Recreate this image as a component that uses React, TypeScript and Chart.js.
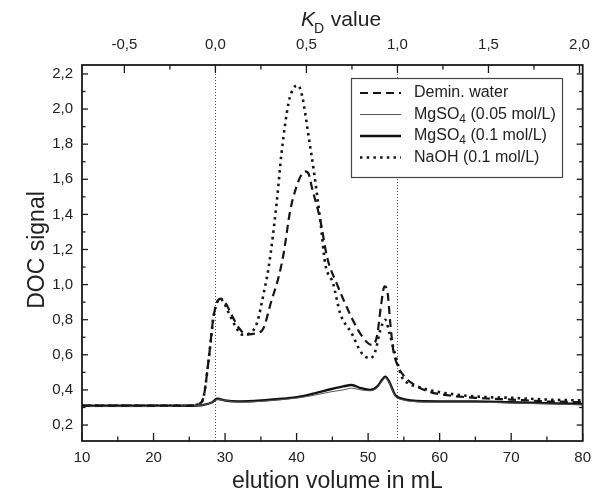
import React, { useEffect, useRef } from "react";
import { Chart, registerables } from "chart.js";

Chart.register(...registerables);

const FONT = '"Liberation Sans", Arial, Helvetica, sans-serif';
const INK = "#1a1a1a";

// ---- data (elution volume in mL / DOC signal) ----
const deminVol = [10, 14, 18, 22, 25, 26.3, 27.0, 27.7, 28.4, 28.9, 29.4, 30.0, 31.0, 32.0, 33.0, 34.0, 35.2, 36.5, 37.5, 38.2, 39.1, 40.0, 40.6, 41.2, 41.7, 42.1, 43.3, 44.3, 45.6, 47.2, 48.6, 50.0, 50.7, 51.3, 51.8, 52.3, 52.7, 53.1, 53.5, 54.2, 55.1, 56.5, 58.5, 61, 65, 70, 75, 80];
const deminSig = [0.31, 0.31, 0.31, 0.31, 0.31, 0.32, 0.36, 0.57, 0.82, 0.9, 0.92, 0.9, 0.82, 0.75, 0.715, 0.72, 0.74, 0.91, 1.045, 1.18, 1.42, 1.56, 1.62, 1.645, 1.63, 1.56, 1.37, 1.15, 1.007, 0.855, 0.741, 0.666, 0.656, 0.72, 0.88, 0.99, 0.96, 0.78, 0.63, 0.532, 0.475, 0.428, 0.39, 0.37, 0.355, 0.345, 0.335, 0.33];

const mg005Vol = [10, 15, 20, 25, 27, 28.2, 28.9, 30, 32, 35, 38, 40.3, 42.5, 44.9, 46.5, 47.7, 49, 50.3, 51.3, 52.0, 52.4, 52.9, 53.8, 54.7, 56, 60, 65, 70, 75, 80];
const mg005Sig = [0.305, 0.305, 0.305, 0.31, 0.315, 0.33, 0.345, 0.34, 0.33, 0.335, 0.345, 0.355, 0.37, 0.39, 0.4, 0.41, 0.4, 0.395, 0.415, 0.455, 0.47, 0.445, 0.365, 0.345, 0.335, 0.33, 0.33, 0.325, 0.32, 0.315];

const mg01Vol = [10, 15, 20, 25, 27, 28.2, 28.9, 30, 32, 35, 38, 40.3, 42.5, 44.9, 46.5, 47.7, 49, 50.3, 51.3, 52.0, 52.4, 52.9, 53.8, 54.7, 56, 60, 65, 70, 75, 80];
const mg01Sig = [0.31, 0.31, 0.31, 0.31, 0.315, 0.33, 0.35, 0.34, 0.335, 0.34, 0.35, 0.36, 0.38, 0.405, 0.42, 0.428, 0.41, 0.4, 0.42, 0.46, 0.475, 0.45, 0.37, 0.35, 0.34, 0.335, 0.335, 0.33, 0.325, 0.32];

const naohVol = [10, 14, 18, 22, 25, 26.3, 27.0, 27.7, 28.4, 28.9, 29.3, 29.8, 30.5, 31.5, 32.4, 33.3, 34.45, 35.4, 36.1, 37.2, 37.9, 38.9, 39.6, 40.2, 40.8, 41.7, 42.4, 43.3, 44.0, 45.1, 46.1, 47.7, 49.1, 50.3, 51.0, 51.7, 52.4, 53.0, 54.0, 54.7, 55.6, 57.0, 59, 62, 66, 70, 75, 80];
const naohSig = [0.31, 0.31, 0.31, 0.31, 0.31, 0.32, 0.36, 0.57, 0.82, 0.9, 0.92, 0.9, 0.84, 0.76, 0.715, 0.72, 0.78, 0.95, 1.1, 1.46, 1.75, 2.04, 2.12, 2.135, 2.07, 1.84, 1.65, 1.37, 1.12, 1.007, 0.836, 0.722, 0.61, 0.58, 0.62, 0.74, 0.8, 0.72, 0.57, 0.475, 0.437, 0.418, 0.395, 0.375, 0.36, 0.355, 0.345, 0.34];

const seriesLabels = ["Demin. water", "MgSO4 (0.05 mol/L)", "MgSO4 (0.1 mol/L)", "NaOH (0.1 mol/L)"];

// void volume (K_D = 0) and total volume (K_D = 1)
const V0 = 28.65;
const VT = 54.1;

const X_MIN = 10;
const X_MAX = 80;
const Y_MIN = 0.109;
const Y_MAX = 2.251;

const xMajorTicks = [10, 20, 30, 40, 50, 60, 70, 80];
const xMinorTicks = [15, 25, 35, 45, 55, 65, 75];
const yMajorTicks = [0.2, 0.4, 0.6, 0.8, 1.0, 1.2, 1.4, 1.6, 1.8, 2.0, 2.2];
const yMinorTicks = [0.3, 0.5, 0.7, 0.9, 1.1, 1.3, 1.5, 1.7, 1.9, 2.1];
const kdMajorTicks = [-0.5, 0, 0.5, 1.0, 1.5, 2.0];
const kdMinorTicks = [-0.25, 0.25, 0.75, 1.25, 1.75];

const comma = (v: number) => v.toFixed(1).replace(".", ",");
const pts = (xs: number[], ys: number[]) => xs.map((x, i) => ({ x, y: ys[i] }));

function drawSubText(ctx: CanvasRenderingContext2D, text: string, x: number, y: number, size: number) {
  const parts = text.split(/(?<=[A-Za-z])(\d+)/);
  let cx = x;
  parts.forEach((p, i) => {
    const sub = i % 2 === 1;
    ctx.font = `${sub ? Math.round(size * 0.72) : size}px ${FONT}`;
    ctx.fillText(p, cx, sub ? y + size * 0.32 : y);
    cx += ctx.measureText(p).width;
  });
}

const decorPlugin = {
  id: "decor",
  beforeDatasetsDraw(chart: any) {
    const { ctx, chartArea: a, scales } = chart;
    ctx.save();
    ctx.strokeStyle = "#555";
    ctx.lineWidth = 1;
    ctx.setLineDash([1, 2]);
    [V0, VT].forEach((v) => {
      const p = Math.round(scales.x.getPixelForValue(v)) + 0.5;
      ctx.beginPath();
      ctx.moveTo(p, a.top);
      ctx.lineTo(p, a.bottom);
      ctx.stroke();
    });
    ctx.restore();
  },
  afterDraw(chart: any) {
    const { ctx, chartArea: a, scales } = chart;
    const xs = scales.x, ys = scales.y, ks = scales.x2;
    ctx.save();
    ctx.strokeStyle = INK;
    ctx.lineWidth = 1.3;
    const seg = (x1: number, y1: number, x2: number, y2: number) => {
      ctx.beginPath();
      ctx.moveTo(x1, y1);
      ctx.lineTo(x2, y2);
      ctx.stroke();
    };
    xMajorTicks.forEach((v) => { const p = xs.getPixelForValue(v); seg(p, a.bottom, p, a.bottom - 8); });
    xMinorTicks.forEach((v) => { const p = xs.getPixelForValue(v); seg(p, a.bottom, p, a.bottom - 4.5); });
    kdMajorTicks.forEach((v) => { const p = ks.getPixelForValue(v); seg(p, a.top, p, a.top + 8); });
    kdMinorTicks.forEach((v) => { const p = ks.getPixelForValue(v); seg(p, a.top, p, a.top + 4.5); });
    yMajorTicks.forEach((v) => { const p = ys.getPixelForValue(v); seg(a.left, p, a.left + 6, p); seg(a.right, p, a.right - 6, p); });
    yMinorTicks.forEach((v) => { const p = ys.getPixelForValue(v); seg(a.left, p, a.left + 3.5, p); seg(a.right, p, a.right - 3.5, p); });

    // frame
    ctx.lineWidth = 1.8;
    ctx.strokeRect(a.left, a.top, a.right - a.left, a.bottom - a.top);

    // axis titles
    ctx.fillStyle = "#222";
    ctx.textBaseline = "middle";
    ctx.textAlign = "center";
    ctx.font = `23px ${FONT}`;
    ctx.fillText("elution volume in mL", (a.left + a.right) / 2 + 5, 482);
    ctx.save();
    ctx.translate(38, 250);
    ctx.rotate(-Math.PI / 2);
    ctx.fillText("DOC signal", 0, 0);
    ctx.restore();

    // top title: K_D value
    ctx.textAlign = "left";
    ctx.textBaseline = "alphabetic";
    const fK = `italic 21px ${FONT}`, fD = `14px ${FONT}`, fV = `21px ${FONT}`;
    ctx.font = fK; const wK = ctx.measureText("K").width;
    ctx.font = fD; const wD = ctx.measureText("D").width;
    ctx.font = fV; const wV = ctx.measureText(" value").width;
    let tx = 341 - (wK + wD + wV) / 2;
    const ty = 26;
    ctx.font = fK; ctx.fillText("K", tx, ty); tx += wK;
    ctx.font = fD; ctx.fillText("D", tx - 1, ty + 7); tx += wD;
    ctx.font = fV; ctx.fillText(" value", tx, ty);

    // legend
    const lx = 351, ly = 78, lw = 211, lh = 99;
    ctx.fillStyle = "#fff";
    ctx.fillRect(lx, ly, lw, lh);
    ctx.strokeStyle = "#444";
    ctx.lineWidth = 1.2;
    ctx.strokeRect(lx + 0.5, ly + 0.5, lw, lh);
    const rows = [93, 114.5, 136, 157.5];
    chart.data.datasets.forEach((ds: any, i: number) => {
      const ry = rows[i];
      ctx.save();
      ctx.strokeStyle = ds.borderColor;
      ctx.lineWidth = ds.borderWidth;
      ctx.setLineDash(ds.borderDash || []);
      ctx.beginPath();
      ctx.moveTo(360, ry);
      ctx.lineTo(401, ry);
      ctx.stroke();
      ctx.restore();
      ctx.fillStyle = "#222";
      ctx.textBaseline = "middle";
      ctx.textAlign = "left";
      drawSubText(ctx, ds.label, 414, ry, 16);
    });
    ctx.restore();
  },
};

export default function App() {
  const ref = useRef<HTMLCanvasElement>(null);
  useEffect(() => {
    document.body.style.margin = "0";
    const canvas = ref.current!;
    const tickFont = { family: FONT, size: 15 };
    const kdMin = (X_MIN - V0) / (VT - V0);
    const kdMax = (X_MAX - V0) / (VT - V0);
    const common = { pointRadius: 0, fill: false, cubicInterpolationMode: "monotone" as const, borderJoinStyle: "round" as const };
    const chart = new Chart(canvas, {
      type: "line",
      data: {
        datasets: [
          { ...common, label: seriesLabels[0], data: pts(deminVol, deminSig), borderColor: "#151515", borderWidth: 2.2, borderDash: [8, 5] },
          { ...common, label: seriesLabels[1], data: pts(mg005Vol, mg005Sig), borderColor: "#555", borderWidth: 1 },
          { ...common, label: seriesLabels[2], data: pts(mg01Vol, mg01Sig), borderColor: "#111", borderWidth: 2.4 },
          { ...common, label: seriesLabels[3], data: pts(naohVol, naohSig), borderColor: "#151515", borderWidth: 2.6, borderDash: [2.5, 4.2] },
        ],
      },
      options: {
        animation: false,
        responsive: false,
        devicePixelRatio: 1,
        parsing: true,
        layout: { padding: { left: 0, right: 14, top: 0, bottom: 0 } },
        plugins: { legend: { display: false }, tooltip: { enabled: false } },
        scales: {
          x: {
            type: "linear",
            position: "bottom",
            min: X_MIN,
            max: X_MAX,
            afterBuildTicks: (s: any) => { s.ticks = xMajorTicks.map((v) => ({ value: v })); },
            afterFit: (s: any) => { s.height = 58; },
            ticks: { font: tickFont, color: "#222", padding: 8, maxRotation: 0, autoSkip: false, callback: (v: any) => String(v) },
            grid: { display: false, drawTicks: false },
            border: { display: false },
          },
          x2: {
            type: "linear",
            axis: "x",
            position: "top",
            min: kdMin,
            max: kdMax,
            afterBuildTicks: (s: any) => { s.ticks = kdMajorTicks.map((v) => ({ value: v })); },
            afterFit: (s: any) => { s.height = 65; },
            ticks: { font: tickFont, color: "#222", padding: 11, maxRotation: 0, autoSkip: false, callback: (v: any) => comma(Number(v)) },
            grid: { display: false, drawTicks: false },
            border: { display: false },
          },
          y: {
            type: "linear",
            position: "left",
            min: Y_MIN,
            max: Y_MAX,
            afterBuildTicks: (s: any) => { s.ticks = yMajorTicks.map((v) => ({ value: v })); },
            afterFit: (s: any) => { s.width = 82; },
            ticks: { font: tickFont, color: "#222", padding: 9, autoSkip: false, callback: (v: any) => comma(Number(v)) },
            grid: { display: false, drawTicks: false },
            border: { display: false },
          },
        },
      } as any,
      plugins: [decorPlugin],
    });
    return () => chart.destroy();
  }, []);
  return (
    <div style={{ width: 601, height: 499, background: "#fff" }}>
      <canvas ref={ref} width={601} height={499} style={{ display: "block" }} />
    </div>
  );
}
